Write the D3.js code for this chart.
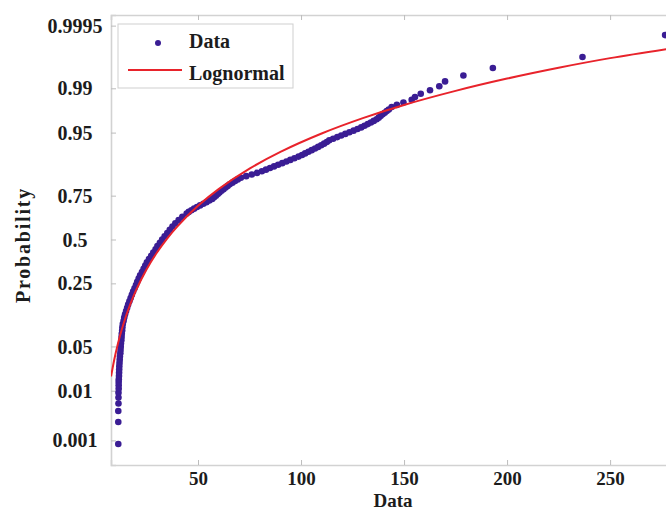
<!DOCTYPE html>
<html><head><meta charset="utf-8">
<script src="https://cdn.jsdelivr.net/npm/d3@7"></script>
<style>
body{margin:0;background:#fff}
svg{display:block}
text{font-family:"Liberation Serif","Times New Roman",serif;font-weight:bold;fill:#1c1c1c}
</style>
</head><body>
<svg id="chart" width="666" height="513"></svg>
<script>
// ---- data ----
const xTicks = [50, 100, 150, 200, 250];
const yTickProbs = [0.001, 0.01, 0.05, 0.25, 0.5, 0.75, 0.95, 0.99, 0.9995];
const yTickLabels = ["0.001", "0.01", "0.05", "0.25", "0.5", "0.75", "0.95", "0.99", "0.9995"];

// observed data: value and plotting probability
const dataX = [11.3, 11.3, 11.3, 11.4, 11.4, 11.4, 11.5, 11.5, 11.5, 11.55,
  11.65, 11.7, 11.75, 11.8, 11.9, 12.0, 12.1, 12.3, 12.4, 12.5,
  12.6, 12.8, 12.9, 13.0, 13.2, 13.3, 13.5, 13.9, 14.2, 14.6,
  15.1, 15.6, 16.1, 16.7, 17.3, 17.9, 18.5, 19.2, 19.9, 20.5,
  21.2, 21.9, 22.8, 23.6, 24.4, 25.2, 26.2, 27.3, 28.3, 29.4,
  30.3, 31.5, 32.6, 33.8, 35.1, 36.3, 37.6, 39.0, 40.6, 42.4,
  44.5, 45.5, 46.8, 48.1, 49.5, 51.0, 52.6, 54.1, 55.5, 56.9,
  57.8, 58.7, 59.6, 60.4, 61.4, 62.4, 63.4, 64.4, 65.4, 66.7,
  68.0, 69.3, 70.8, 73.4, 76.1, 78.6, 81.0, 83.0, 84.95, 86.9,
  88.9, 90.9, 92.9, 94.8, 96.8, 98.8, 100.5, 102.0, 103.6, 105.2,
  106.8, 108.3, 109.8, 111.2, 112.5, 113.7, 115.6, 117.6, 119.5, 121.5,
  123.5, 125.5, 127.4, 129.2, 130.8, 132.4, 133.9, 135.3, 136.7, 137.7,
  138.6, 139.6, 140.6, 141.6, 142.6,
  144.0, 146.5, 149.7, 153.7, 155.3, 158.1, 162.6, 167.1, 169.9, 178.8,
  193.1, 236.6, 276.7];
const dataP = [0.00083, 0.0025, 0.00417, 0.00583, 0.0075, 0.00917, 0.01083, 0.0125, 0.01417, 0.01583,
  0.0179, 0.0202, 0.0228, 0.0256, 0.0287, 0.0322, 0.0359, 0.0401, 0.0446, 0.0495,
  0.0548, 0.0606, 0.0668, 0.0735, 0.0808, 0.0885, 0.0968, 0.1057, 0.1151, 0.1251,
  0.1357, 0.1469, 0.1587, 0.1711, 0.1841, 0.1977, 0.2119, 0.2266, 0.2420, 0.2578,
  0.2743, 0.2912, 0.3085, 0.3264, 0.3446, 0.3632, 0.3821, 0.4013, 0.4207, 0.4404,
  0.4602, 0.4801, 0.5, 0.5199, 0.5398, 0.5596, 0.5793, 0.5987, 0.6179, 0.6368,
  0.6554, 0.6646, 0.6736, 0.6826, 0.6915, 0.7002, 0.7088, 0.7173, 0.7257, 0.7340,
  0.7422, 0.7501, 0.7580, 0.7658, 0.7734, 0.7808, 0.7881, 0.7953, 0.8023, 0.8092,
  0.8159, 0.8225, 0.8289, 0.8352, 0.8413, 0.8473, 0.8531, 0.8588, 0.8643, 0.8697,
  0.8749, 0.8800, 0.8849, 0.8897, 0.8944, 0.8989, 0.9032, 0.9074, 0.9115, 0.9154,
  0.9192, 0.9229, 0.9265, 0.9299, 0.9332, 0.9364, 0.9394, 0.9424, 0.9452, 0.9479,
  0.9505, 0.9530, 0.9554, 0.9577, 0.9599, 0.9621, 0.9641, 0.9660, 0.9678, 0.9696,
  0.9713, 0.9729, 0.9744, 0.9759, 0.9772,
  0.97917, 0.98083, 0.9825, 0.98417, 0.98583, 0.9875, 0.98917, 0.99083, 0.9925, 0.99417,
  0.99583, 0.9975, 0.99917];

// fitted lognormal curve
const fitX = [7.8, 9, 10, 12, 14, 17, 20, 25, 30, 35, 40, 50, 60, 75, 90, 110, 130, 150, 175, 200, 225, 250, 282];
const fitP = [0.0176, 0.0285, 0.0397, 0.0672, 0.1003, 0.1572, 0.2191, 0.3225, 0.4196, 0.5059, 0.5805, 0.6978,
  0.7811, 0.8623, 0.9113, 0.9486, 0.9691, 0.9808, 0.9889, 0.99336, 0.99589, 0.99737, 0.99842];

const seriesNames = ["Data", "Lognormal"];
const colors = {data: "#3a1d94", fit: "#e8232b", axis: "#d2d2d2", tick: "#bdbdbd"};

// ---- inverse normal CDF (probability axis) ----
function norminv(p) {
  const a = [-3.969683028665376e+01, 2.209460984245205e+02, -2.759285104469687e+02, 1.383577518672690e+02, -3.066479806614716e+01, 2.506628277459239e+00];
  const b = [-5.447609879822406e+01, 1.615858368580409e+02, -1.556989798598866e+02, 6.680131188771972e+01, -1.328068155288572e+01];
  const c = [-7.784894002430293e-03, -3.223964580411365e-01, -2.400758277161838e+00, -2.549732539343734e+00, 4.374664141464968e+00, 2.938163982698783e+00];
  const d = [7.784695709041462e-03, 3.224671290700398e-01, 2.445134137142996e+00, 3.754408661907416e+00];
  const pl = 0.02425, ph = 1 - pl;
  let q, r;
  if (p < pl) {
    q = Math.sqrt(-2 * Math.log(p));
    return (((((c[0]*q+c[1])*q+c[2])*q+c[3])*q+c[4])*q+c[5]) / ((((d[0]*q+d[1])*q+d[2])*q+d[3])*q+1);
  } else if (p <= ph) {
    q = p - 0.5; r = q * q;
    return (((((a[0]*r+a[1])*r+a[2])*r+a[3])*r+a[4])*r+a[5])*q / (((((b[0]*r+b[1])*r+b[2])*r+b[3])*r+b[4])*r+1);
  } else {
    q = Math.sqrt(-2 * Math.log(1 - p));
    return -(((((c[0]*q+c[1])*q+c[2])*q+c[3])*q+c[4])*q+c[5]) / ((((d[0]*q+d[1])*q+d[2])*q+d[3])*q+1);
  }
}

// ---- layout ----
const svg = d3.select("#chart");
const L = 111, R = 675, T = 15, B = 465;
const x = d3.scaleLinear().domain([7.77, 281.5]).range([L, R]);
const z = d3.scaleLinear().domain([-3.469, 3.454]).range([B, T]);
const y = p => z(norminv(p));

svg.append("rect").attr("width", 666).attr("height", 513).attr("fill", "#fff");

svg.append("defs").append("clipPath").attr("id", "plotclip")
  .append("rect").attr("x", L).attr("y", T).attr("width", R - L).attr("height", B - T);

// axes
const gx = svg.append("g").attr("transform", `translate(0,${B})`)
  .call(d3.axisBottom(x).tickValues(xTicks).tickSize(-5).tickPadding(7).tickFormat(d3.format("d")));
const gxTop = svg.append("g").attr("transform", `translate(0,${T})`)
  .call(d3.axisTop(x).tickValues(xTicks).tickSize(-5).tickFormat(""));
const gy = svg.append("g").attr("transform", `translate(${L},0)`)
  .call(d3.axisLeft(z).tickValues(yTickProbs.map(norminv)).tickSize(-5)
    .tickFormat((d, i) => yTickLabels[i]));

[gx, gxTop, gy].forEach(g => {
  g.select(".domain").attr("stroke", colors.axis).attr("stroke-width", 1.6);
  g.selectAll(".tick line").attr("stroke", colors.tick).attr("stroke-width", 1);
  g.selectAll(".tick text").attr("font-size", 20).attr("fill", "#1c1c1c")
    .attr("font-family", '"Liberation Serif", serif').attr("font-weight", "bold");
});
gx.selectAll(".tick text").attr("font-size", 19);
gy.selectAll(".tick text").attr("text-anchor", "middle").attr("x", 75 - L).attr("dy", "0.33em");

// axis titles
svg.append("text").attr("x", 393).attr("y", 507).attr("text-anchor", "middle")
  .attr("font-size", 19).text("Data");
svg.append("text").attr("transform", "translate(30,245) rotate(-90)").attr("text-anchor", "middle")
  .attr("font-size", 20).attr("letter-spacing", "1.8px").text("Probability");

// data points
const pts = dataX.map((v, i) => ({x: v, p: dataP[i]}));
svg.append("g").selectAll("circle").data(pts).join("circle")
  .attr("cx", d => x(d.x)).attr("cy", d => y(d.p)).attr("r", 3.3)
  .attr("fill", colors.data);

// lognormal fit line
const fit = fitX.map((v, i) => ({x: v, p: fitP[i]}));
svg.append("path").datum(fit).attr("clip-path", "url(#plotclip)")
  .attr("fill", "none").attr("stroke", colors.fit).attr("stroke-width", 2)
  .attr("d", d3.line().x(d => x(d.x)).y(d => y(d.p)).curve(d3.curveCatmullRom.alpha(0.5)));

// legend
const lg = svg.append("g");
lg.append("rect").attr("x", 118).attr("y", 24).attr("width", 175).attr("height", 64)
  .attr("fill", "#fff").attr("stroke", "#cfcfcf").attr("stroke-width", 1);
lg.append("circle").attr("cx", 158).attr("cy", 43).attr("r", 3).attr("fill", colors.data);
lg.append("line").attr("x1", 128).attr("x2", 182).attr("y1", 70).attr("y2", 70)
  .attr("stroke", colors.fit).attr("stroke-width", 2);
lg.append("text").attr("x", 189).attr("y", 48).attr("font-size", 20).text(seriesNames[0]);
lg.append("text").attr("x", 189).attr("y", 80).attr("font-size", 20).text(seriesNames[1]);
</script>
</body></html>
